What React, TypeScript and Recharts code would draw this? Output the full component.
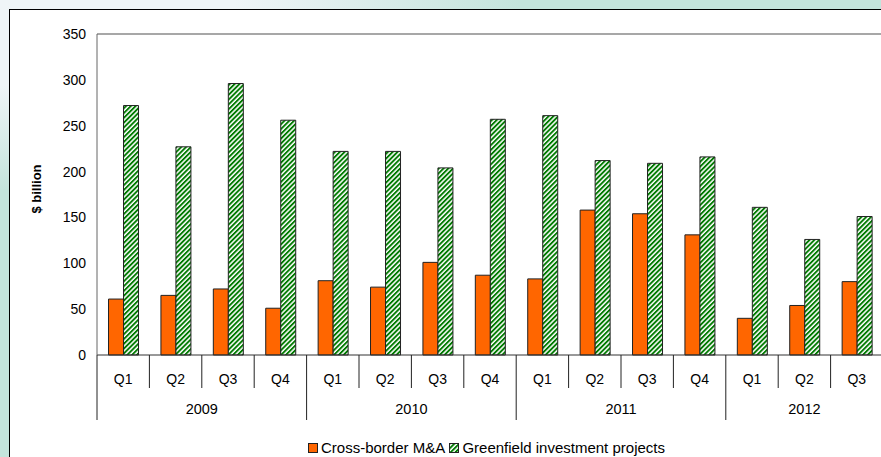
import { BarChart, Bar, XAxis, YAxis, ReferenceLine } from "recharts";

const quarters = ["Q1", "Q2", "Q3", "Q4", "Q1", "Q2", "Q3", "Q4", "Q1", "Q2", "Q3", "Q4", "Q1", "Q2", "Q3"];
const years = ["2009", "2009", "2009", "2009", "2010", "2010", "2010", "2010", "2011", "2011", "2011", "2011", "2012", "2012", "2012"];
const crossBorder = [61, 65, 72, 51, 81, 74, 101, 87, 83, 158, 154, 131, 40, 54, 80];
const greenfield = [272, 227, 296, 256, 222, 222, 204, 257, 261, 212, 209, 216, 161, 126, 151];
const yTicks = [0, 50, 100, 150, 200, 250, 300, 350];

const data = quarters.map((q, i) => ({
  q,
  year: years[i],
  cross: crossBorder[i],
  green: greenfield[i],
}));

const FONT = "'Liberation Sans', Arial, sans-serif";
const ORANGE = "#ff6600";
const GREEN = "#007a00";

// two-level category axis: quarter label + separators, year label under each group
const QuarterTick = (props: any) => {
  const { x, y, payload, index } = props;
  const half = payload?.offset ?? 26.2;
  const left = x - half;
  const yr = years[index];
  const firstOfYear = index === 0 || years[index - 1] !== yr;
  const count = years.filter((v) => v === yr).length;
  return (
    <g>
      <line x1={left} x2={left} y1={y} y2={y + (firstOfYear ? 65 : 33)} stroke="#222" strokeWidth={1} />
      <text x={x} y={y + 29} textAnchor="middle" fontSize={14} fontFamily={FONT} fill="#000">
        {payload.value}
      </text>
      {firstOfYear && (
        <text x={left + count * half} y={y + 59} textAnchor="middle" fontSize={14.5} fontFamily={FONT} fill="#000">
          {yr}
        </text>
      )}
    </g>
  );
};

const YLabel = () => (
  <text
    x={36}
    y={189}
    transform="rotate(-90 36 189)"
    textAnchor="middle"
    dominantBaseline="central"
    fontSize={13}
    fontWeight="bold"
    fontFamily={FONT}
    fill="#000"
  >
    $ billion
  </text>
);

const HatchSwatch = () => (
  <svg width={10} height={10} style={{ display: "block" }}>
    <defs>
      <pattern id="hatchLegend" width={3.4} height={3.4} patternUnits="userSpaceOnUse" patternTransform="rotate(45)">
        <rect width={3.4} height={3.4} fill="#fff" />
        <rect width={1.9} height={3.4} fill={GREEN} />
      </pattern>
    </defs>
    <rect x={0.5} y={0.5} width={9} height={9} fill="url(#hatchLegend)" stroke="#222" />
  </svg>
);

export default function App() {
  return (
    <div
      style={{
        position: "absolute",
        left: 0,
        top: 0,
        width: 881,
        height: 457,
        overflow: "hidden",
        background: "radial-gradient(ellipse 520px 190px at 0 0, #eff5f7 45%, #c4e4dc 100%)",
      }}
    >
      <div
        style={{
          position: "absolute",
          left: 9,
          top: 9,
          width: 900,
          height: 460,
          background: "#fff",
          borderLeft: "1.5px solid #000",
          borderTop: "1.5px solid #000",
        }}
      />
      <div style={{ position: "absolute", left: 0, top: 0 }}>
        <BarChart
          width={890}
          height={457}
          data={data}
          margin={{ top: 34, right: 7, left: 0, bottom: 37 }}
          barCategoryGap="22%"
          barGap={0}
        >
          <defs>
            <pattern id="hatch" width={3.4} height={3.4} patternUnits="userSpaceOnUse" patternTransform="rotate(45)">
              <rect width={3.4} height={3.4} fill="#fff" />
              <rect width={1.9} height={3.4} fill={GREEN} />
            </pattern>
          </defs>
          <XAxis
            dataKey="q"
            height={65}
            interval={0}
            tickLine={false}
            tickSize={0}
            tickMargin={0}
            axisLine={{ stroke: "#333" }}
            tick={<QuarterTick />}
          />
          <YAxis
            width={97}
            domain={[0, 350]}
            ticks={yTicks}
            interval={0}
            tickLine={false}
            tickSize={0}
            tickMargin={11}
            axisLine={{ stroke: "#666" }}
            tick={{ fontSize: 14, fontFamily: FONT, fill: "#000" }}
            label={<YLabel />}
          />
          <ReferenceLine y={350} stroke="#8a8a8a" strokeWidth={1.5} />
          <Bar dataKey="cross" fill={ORANGE} stroke="#222" strokeWidth={1} isAnimationActive={false} />
          <Bar dataKey="green" fill="url(#hatch)" stroke="#222" strokeWidth={1} isAnimationActive={false} />
        </BarChart>
      </div>
      <div
        style={{
          position: "absolute",
          left: 308,
          top: 439,
          height: 18,
          display: "flex",
          alignItems: "center",
          fontFamily: FONT,
          fontSize: 15,
          color: "#000",
          whiteSpace: "nowrap",
          lineHeight: "18px",
        }}
      >
        <span style={{ display: "block", width: 8, height: 8, background: ORANGE, border: "1px solid #222", marginRight: 3 }} />
        <span>Cross-border M&amp;A&nbsp;</span>
        <HatchSwatch />
        <span style={{ marginLeft: 3 }}>Greenfield investment projects</span>
      </div>
    </div>
  );
}
